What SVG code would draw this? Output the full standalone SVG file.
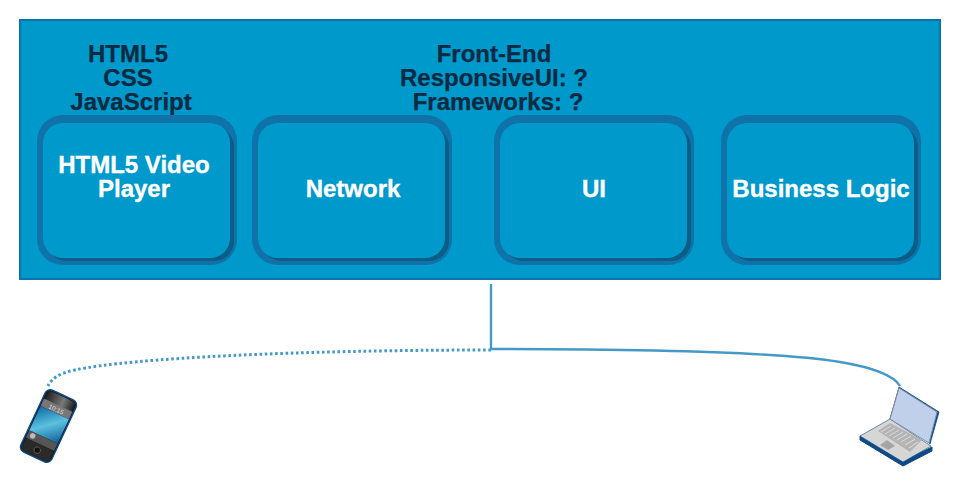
<svg xmlns="http://www.w3.org/2000/svg" width="960" height="486" viewBox="0 0 960 486">
<style>
.d{font:bold 24px "Liberation Sans",Arial,sans-serif;fill:#0b2a42;text-anchor:middle;stroke:#0b2a42;stroke-width:.25}
.w{font:bold 24px "Liberation Sans",Arial,sans-serif;fill:#fff;text-anchor:middle;stroke:#fff;stroke-width:.35}
.o{fill:#0f73aa}
.s{fill:#0c5c88}
.i{fill:#0099cc}
.c{fill:none;stroke:#4499c6;stroke-width:2.4}
</style>
<defs>
<linearGradient id="scr" x1="0" y1="0" x2="1" y2="1"><stop offset="0" stop-color="#0d6aa3"/><stop offset=".5" stop-color="#5cc0e0"/><stop offset="1" stop-color="#0d5f96"/></linearGradient>
<linearGradient id="blk" x1="0" y1="0" x2="1" y2="0"><stop offset="0" stop-color="#1c1c1c"/><stop offset=".6" stop-color="#777"/><stop offset="1" stop-color="#1c1c1c"/></linearGradient>
</defs>
<g id="container"><rect x="20" y="20" width="920" height="259" fill="#0099cc" stroke="#0f73aa" stroke-width="2"/></g>
<g id="label-stack"><text x="128" y="62" class="d">HTML5</text><text x="128" y="86" class="d">CSS</text><text x="131" y="110" class="d">JavaScript</text></g>
<g id="label-frontend"><text x="494" y="62" class="d">Front-End</text><text x="494" y="86" class="d">ResponsiveUI: ?</text><text x="498" y="110" class="d">Frameworks: ?</text></g>
<g id="node-player"><rect class="o" x="37" y="115" width="200" height="150" rx="26"/><rect class="s" x="47" y="127" width="187" height="134" rx="20"/><rect class="i" x="43" y="123" width="187" height="135" rx="20"/><text x="134" y="173" class="w">HTML5 Video</text><text x="134" y="197" class="w">Player</text></g>
<g id="node-network"><rect class="o" x="252" y="115" width="200" height="150" rx="26"/><rect class="s" x="262" y="127" width="187" height="134" rx="20"/><rect class="i" x="258" y="123" width="187" height="135" rx="20"/><text x="353" y="197" class="w">Network</text></g>
<g id="node-ui"><rect class="o" x="494" y="115" width="200" height="150" rx="26"/><rect class="s" x="504" y="127" width="187" height="134" rx="20"/><rect class="i" x="500" y="123" width="187" height="135" rx="20"/><text x="594" y="197" class="w">UI</text></g>
<g id="node-logic"><rect class="o" x="721" y="115" width="200" height="150" rx="26"/><rect class="s" x="731" y="127" width="187" height="134" rx="20"/><rect class="i" x="727" y="123" width="187" height="135" rx="20"/><text x="821" y="197" class="w">Business Logic</text></g>
<g id="connectors">
<path class="c" d="M491 284V349"/>
<path class="c" d="M491 349C640 349 780 352 840 362C870 367 893 374 900 386"/>
<path class="c" stroke-width="3" stroke-dasharray="2.6 2.6" style="stroke-width:3" d="M491 350C300 350 130 358 75 370C60 373 52 378 48 386"/>
</g>
<g id="phone" transform="translate(48.500 426) scale(.92) rotate(25) translate(-48 -426)">
<rect x="29.500" y="389" width="37" height="74" rx="6" fill="#111" stroke="#0d4a86" stroke-width="1.6"/>
<rect x="31" y="390.500" width="34" height="11" rx="4" fill="url(#blk)"/>
<rect x="31" y="401" width="34" height="9" fill="#777"/>
<text x="48" y="408.500" font-family="Liberation Sans,sans-serif" font-size="7" fill="#ddd" text-anchor="middle">10:15</text>
<rect x="31" y="410" width="34" height="29" fill="url(#scr)"/>
<rect x="31" y="439" width="34" height="9" fill="#555"/>
<circle cx="37" cy="443" r="3" fill="#bbb"/>
<rect x="31" y="448" width="34" height="14" rx="3" fill="#2a2a2a"/>
<circle cx="48" cy="455" r="3.500" fill="#111" stroke="#666" stroke-width=".8"/>
</g>
<g id="laptop">
<path d="M860 436V440L903 466L932 451V447L903 461Z" fill="#0d4a86" stroke="#0d4a86" stroke-width="1"/>
<path d="M860 436L890 419L931 446L903 462Z" fill="#d6d6d6" stroke="#0d4a86" stroke-width=".6"/>
<path d="M878 431L890 423L922 440L910 452Z" fill="#b4b4b4"/>
<path d="M881 432L891 426M885 434L895 428M889 436L899 430M893 438L903 432M897 440L907 434M901 442L911 436M905 445L915 439M909 448L918 442" stroke="#e6e6e6" stroke-width=".8" fill="none"/>
<path d="M880 445L887 440L895 446L888 450Z" fill="#a5a5a5"/>
<path d="M890 419L899 387L939 412L930 444L929 443L936 412L900 390Z" fill="#0d4a86" stroke="#0d4a86" stroke-width=".8"/>
<path d="M890 419L899 388L937 412L929 443Z" fill="#c1d0ea" stroke="#7f8ea8" stroke-width="1"/>
</g>
</svg>
